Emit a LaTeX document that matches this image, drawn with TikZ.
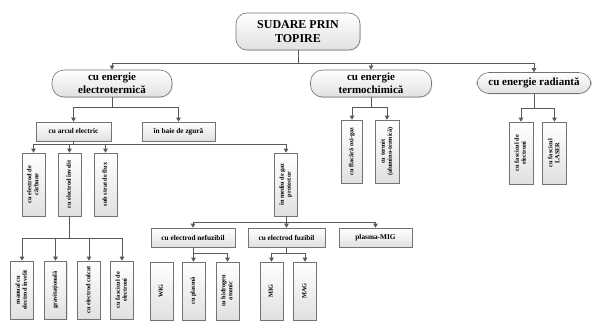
\documentclass[tikz,border=0pt]{standalone}
\usepackage{fontspec}
\setmainfont{Liberation Serif}
\usepackage{graphicx}
\usetikzlibrary{arrows.meta,shadows}
\newcommand\vtxt[1]{\rotatebox{90}{\fontsize{6.3}{7}\selectfont\bfseries\begin{tabular}{@{}c@{}}#1\end{tabular}}}
\begin{document}
\begin{tikzpicture}[x=1pt,y=-1pt,
  box/.style={draw=black!55, line width=0.6pt, top color=white, bottom color=black!12,
    drop shadow={opacity=0.25, shadow xshift=0.8pt, shadow yshift=-0.8pt},
    inner sep=1pt, align=center, font=\fontsize{7.3}{8.5}\selectfont\bfseries},
  pill/.style={box, rounded corners=12pt, font=\fontsize{11}{13}\selectfont\bfseries},
  hbox/.style={box, minimum height=19},
  vbox/.style={box, minimum width=23, minimum height=63},
  lbox/.style={box, minimum width=22.5, minimum height=58},
  arr/.style={draw=black!65, line width=0.7pt, -{Triangle[length=4pt,width=4.5pt]}}]
\useasboundingbox (0,0) rectangle (595,325);
% level 0
\node[pill, minimum width=124, minimum height=37, rounded corners=11pt, font=\fontsize{12}{14}\selectfont\bfseries] (top) at (298,31.5) {SUDARE PRIN\\TOPIRE};
% level 1
\node[pill, minimum width=120, minimum height=27] (e1) at (112,83.5) {cu energie\\electrotermică};
\node[pill, minimum width=121, minimum height=27] (e2) at (371,83.5) {cu energie\\termochimică};
\node[pill, minimum width=114, minimum height=21] (e3) at (534,83) {cu energie radiantă};
% level 2 under e1
\node[hbox, minimum width=75] (a1) at (73.5,131.5) {cu arcul electric};
\node[hbox, minimum width=73] (a2) at (178.5,131.5) {în baie de zgură};
% level 3 under a1
\node[vbox] (b1) at (33.5,184.5) {\vtxt{cu electrod de\\cărbune}};
\node[vbox] (b2) at (69.5,184.5) {\vtxt{cu electrod învelit}};
\node[vbox] (b3) at (105.5,184.5) {\vtxt{sub strat de flux}};
\node[vbox] (b4) at (286,184.5) {\vtxt{în mediu de gaz\\protector}};
% level 4 under b2
\node[lbox] (c1) at (22,290) {\vtxt{manual cu\\electrod învelit}};
\node[lbox] (c2) at (55.5,290) {\vtxt{gravitațională}};
\node[lbox] (c3) at (89,290) {\vtxt{cu electrod culcat}};
\node[lbox] (c4) at (122,290) {\vtxt{cu fascicul de\\electroni}};
% level 4 under b4
\node[hbox, minimum width=84] (g1) at (193,237.5) {cu electrod nefuzibil};
\node[hbox, minimum width=77] (g2) at (286.5,237.5) {cu electrod fuzibil};
\node[hbox, minimum width=73] (g3) at (375.5,237.5) {plasma-MIG};
% level 5
\node[lbox, minimum width=23] (w1) at (161.5,291) {\vtxt{WIG}};
\node[lbox, minimum width=23] (w2) at (193.5,291) {\vtxt{cu plasmă}};
\node[lbox, minimum width=23] (w3) at (227.5,291) {\vtxt{cu hidrogen\\atomic}};
\node[lbox, minimum width=23] (m1) at (271.5,291) {\vtxt{MIG}};
\node[lbox, minimum width=23] (m2) at (305,291) {\vtxt{MAG}};
% termochimica children
\node[box, minimum width=21, minimum height=63] (t1) at (352,151.5) {\vtxt{cu flacără oxi-gaz}};
\node[box, minimum width=24, minimum height=63] (t2) at (387,151.5) {\vtxt{cu termit\\(alumino-termică)}};
% radianta children
\node[box, minimum width=24, minimum height=62] (r1) at (521,153) {\vtxt{cu fascicul de\\electroni}};
\node[box, minimum width=24, minimum height=62] (r2) at (554.5,153) {\vtxt{cu fascicul\\LASER}};
% connectors
\draw[arr] (top.south) -- (top.south |- 0,63) -| (e1.north);
\draw[arr] (top.south) -- (top.south |- 0,63) -| (e2.north);
\draw[arr] (top.south) -- (top.south |- 0,63) -| (e3.north);
\draw[arr] (e1.south) -- (e1.south |- 0,107) -| (a1.north);
\draw[arr] (e1.south) -- (e1.south |- 0,107) -| (a2.north);
\draw[arr] (a1.south) -- (a1.south |- 0,144) -| (b1.north);
\draw[arr] (a1.south) -- (a1.south |- 0,144) -| (b2.north);
\draw[arr] (a1.south) -- (a1.south |- 0,144) -| (b3.north);
\draw[arr] (a1.south) -- (a1.south |- 0,144) -| (b4.north);
\draw[arr] (b2.south) -- (b2.south |- 0,238) -| (c1.north);
\draw[arr] (b2.south) -- (b2.south |- 0,238) -| (c2.north);
\draw[arr] (b2.south) -- (b2.south |- 0,238) -| (c3.north);
\draw[arr] (b2.south) -- (b2.south |- 0,238) -| (c4.north);
\draw[arr] (b4.south) -- (b4.south |- 0,222) -| (g1.north);
\draw[arr] (b4.south) -- (b4.south |- 0,222) -| (g2.north);
\draw[arr] (b4.south) -- (b4.south |- 0,222) -| (g3.north);
\draw[arr] (g1.south) -- (g1.south |- 0,253) -| (w2.north);
\draw[arr] (g1.south) -- (g1.south |- 0,253) -| (w3.north);
\draw[arr] (g2.south) -- (g2.south |- 0,253) -| (m1.north);
\draw[arr] (g2.south) -- (g2.south |- 0,253) -| (m2.north);
\draw[arr] (e2.south) -- (e2.south |- 0,107) -| (t1.north);
\draw[arr] (e2.south) -- (e2.south |- 0,107) -| (t2.north);
\draw[arr] (e3.south) -- (e3.south |- 0,108) -| (r1.north);
\draw[arr] (e3.south) -- (e3.south |- 0,108) -| (r2.north);
\end{tikzpicture}
\end{document}
